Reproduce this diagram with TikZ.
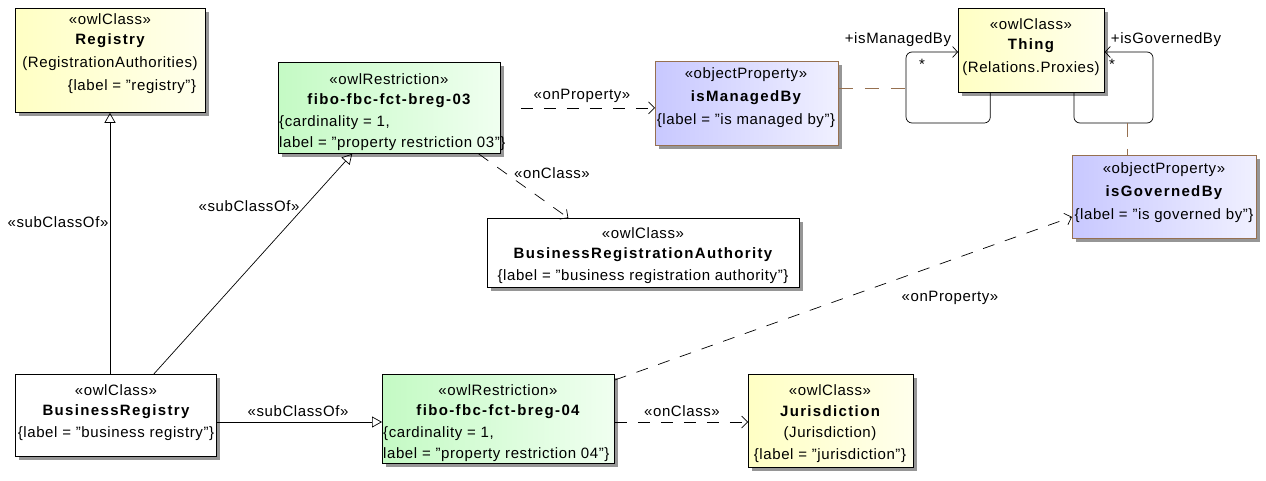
\documentclass[tikz,border=0pt]{standalone}
\usepackage{fontspec}
\setmainfont{Liberation Sans}[Ligatures=ResetAll, LetterSpace=4]
\newfontfamily\boldsp{Liberation Sans Bold}[Ligatures=ResetAll, LetterSpace=9]
\usetikzlibrary{arrows.meta,shadows,calc}
\definecolor{ylwL}{RGB}{255,255,196}
\definecolor{ylwR}{RGB}{255,255,236}
\definecolor{grnL}{RGB}{196,250,196}
\definecolor{grnR}{RGB}{240,255,240}
\definecolor{bluL}{RGB}{200,200,255}
\definecolor{bluR}{RGB}{240,240,255}
\definecolor{brn}{RGB}{150,112,80}
\definecolor{shd}{RGB}{150,150,150}
\tikzset{
  x=1pt, y=-1pt,
  every node/.style={font=\fontsize{15}{17}\selectfont, inner sep=0pt},
  box/.style={draw=black, line width=0.8pt, rectangle, anchor=north west,
    drop shadow={shadow xshift=4pt, shadow yshift=-4pt, fill=shd, opacity=1}},
  clsY/.style={box, left color=ylwL, right color=ylwR},
  clsW/.style={box, fill=white},
  resG/.style={box, left color=grnL, right color=grnR},
  propB/.style={box, draw=brn, left color=bluL, right color=bluR},
  bname/.style={font=\fontsize{15}{17}\boldsp},
  gen/.style={line width=0.7pt, -{Triangle[open, length=10pt, width=11pt]}},
  dep/.style={line width=0.7pt, dash pattern=on 12pt off 11pt, -{Straight Barb[length=6pt, width=12pt]}},
  assoc/.style={line width=0.7pt, rounded corners=6pt},
  brdash/.style={draw=brn, line width=0.8pt, dash pattern=on 14pt off 12pt},
}
\begin{document}
\begin{tikzpicture}
\useasboundingbox (0,0) rectangle (1266,481);
% boxes
\node[clsY, minimum width=190pt, minimum height=104pt] (reg) at (15,8) {};
\node[resG, minimum width=222pt, minimum height=91pt] (r03) at (278,62) {};
\node[propB, minimum width=183pt, minimum height=84pt] (imb) at (655,61) {};
\node[clsY, minimum width=146pt, minimum height=84pt] (thing) at (958,8) {};
\node[propB, minimum width=184pt, minimum height=83pt] (igb) at (1072,155) {};
\node[clsW, minimum width=312pt, minimum height=69pt] (bra) at (487,218) {};
\node[clsW, minimum width=201pt, minimum height=82pt] (breg) at (15,374) {};
\node[resG, minimum width=232pt, minimum height=89pt] (r04) at (382,374) {};
\node[clsY, minimum width=165pt, minimum height=93pt] (jur) at (748,374) {};
% texts
\node (reg1) at (110,19) {«owlClass»};
\node[bname] (reg2) at (110,41) {Registry};
\node (reg3) at (110,64) {(RegistrationAuthorities)};
\node (reg4) at (132,87) {\{label = "registry"\}};

\node (a1) at (389,79) {«owlRestriction»};
\node[bname] (a2) at (389,101) {fibo-fbc-fct-breg-03};
\node[anchor=west] (a3) at (279,123) {\{cardinality = 1,};
\node[anchor=west] (a4) at (279,144) {label = "property restriction 03"\}};

\node (m1) at (746,75) {«objectProperty»};
\node[bname] (m2) at (746,98) {isManagedBy};
\node (m3) at (746,121) {\{label = "is managed by"\}};

\node (t1) at (1031,24) {«owlClass»};
\node[bname] (t2) at (1031,46) {Thing};
\node (t3) at (1031,69) {(Relations.Proxies)};

\node (g1) at (1164,170) {«objectProperty»};
\node[bname] (g2) at (1164,193) {isGovernedBy};
\node (g3) at (1164,216) {\{label = "is governed by"\}};

\node (b1) at (643,233) {«owlClass»};
\node[bname] (b2) at (643,255) {BusinessRegistrationAuthority};
\node (b3) at (643,277) {\{label = "business registration authority"\}};

\node (c1) at (116,390) {«owlClass»};
\node[bname] (c2) at (116,412) {BusinessRegistry};
\node (c3) at (116,434) {\{label = "business registry"\}};

\node (d1) at (498,390) {«owlRestriction»};
\node[bname] (d2) at (498,412) {fibo-fbc-fct-breg-04};
\node[anchor=west] (d3) at (383,434) {\{cardinality = 1,};
\node[anchor=west] (d4) at (383,455) {label = "property restriction 04"\}};

\node (j1) at (830,390) {«owlClass»};
\node[bname] (j2) at (830,411) {Jurisdiction};
\node (j3) at (830,434) {(Jurisdiction)};
\node (j4) at (830,456) {\{label = "jurisdiction"\}};

% generalizations
\draw[gen] (breg.north -| 110,0) -- (reg.south -| 110,0);
\draw[gen] ($(breg.north west)!0.688!(breg.north east)$) -- ($(r03.south west)!0.333!(r03.south east)$);
\draw[gen] (breg.east |- 0,422) -- (r04.west |- 0,422);
\node (l1) at (58,222) {«subClassOf»};
\node (l2) at (249,206) {«subClassOf»};
\node (l3) at (298,411) {«subClassOf»};

% dependencies
\draw[dep] ($(r03.east)+(20,0)$) coordinate (p1) -- (imb.west |- p1);
\node (l4) at (582,96) {«onProperty»};
\draw[dep] ($(r03.south west)!0.9!(r03.south east)$) -- ($(bra.north west)!0.26!(bra.north east)$);
\node (l5) at (552,173) {«onClass»};
\draw[dep] (r04.east |- 0,422) -- (jur.west |- 0,422);
\node (l6) at (682,411) {«onClass»};
\draw[dep] ($(r04.north east)+(0,6)$) -- ($(igb.west)+(0,20)$);
\node (l7) at (950,298) {«onProperty»};

% self associations on Thing
\coordinate (lb) at ($(thing.south west)!0.22!(thing.south east)$);
\coordinate (rb) at ($(thing.south west)!0.79!(thing.south east)$);
\draw[assoc, -{Straight Barb[length=5pt, width=11pt]}] (lb) -- (lb |- 0,123) -- (906,123) -- (906,52) -- (thing.west |- 0,52);
\draw[assoc, -{Straight Barb[length=5pt, width=11pt]}] (rb) -- (rb |- 0,123) -- (1153,123) -- (1153,52) -- (thing.east |- 0,52);
\node (l8) at (898,40) {+isManagedBy};
\node (l9) at (1166,40) {+isGovernedBy};
\node (s1) at (922,64) {*};
\node (s2) at (1112,64) {*};
\draw[brdash] (imb.east |- 0,88) -- (906,88);
\draw[brdash] (1127,123) -- (igb.north -| 1127,0);
\end{tikzpicture}
\end{document}
